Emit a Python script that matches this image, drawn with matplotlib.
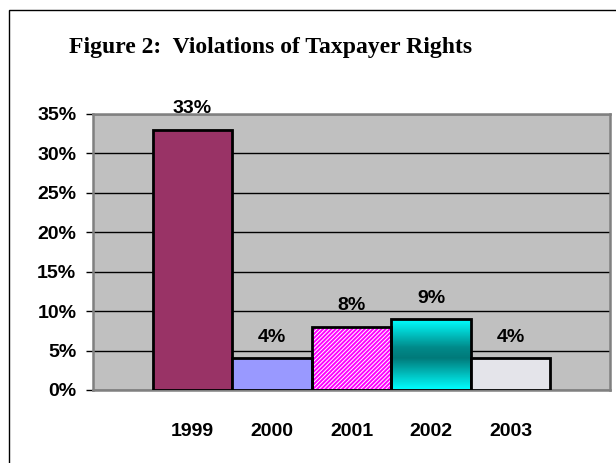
import numpy as np
import matplotlib
matplotlib.use("Agg")
import matplotlib.pyplot as plt
from matplotlib.colors import LinearSegmentedColormap
from matplotlib.patches import Rectangle

# ── data ──────────────────────────────────────────────────────────────────────
years  = ["1999", "2000", "2001", "2002", "2003"]
values = [33, 4, 8, 9, 4]          # percent
y_ticks = [0, 5, 10, 15, 20, 25, 30, 35]

# ── style ─────────────────────────────────────────────────────────────────────
bar_colors = ["#993366", "#9999FF", "#FF00FF", "none", "#E4E4EA"]
bold_sans = {"family": "Liberation Sans", "weight": "bold"}

fig = plt.figure(figsize=(6.16, 4.63), dpi=100, facecolor="white")

# outer chart frame (left and top edges visible)
fig.add_artist(Rectangle((9 / 616, -0.1), 1.2, 1.1 - 10 / 463,
                         transform=fig.transFigure, fill=False,
                         edgecolor="black", linewidth=1.0, clip_on=False))

fig.text(271 / 616, 1 - 47 / 463, "Figure 2:  Violations of Taxpayer Rights",
         ha="center", va="center", fontsize=17,
         family="Liberation Serif", weight="bold")

ax = fig.add_axes([93 / 616, 73 / 463, 517 / 616, 276 / 463])
ax.set_facecolor("#C0C0C0")
for sp in ax.spines.values():
    sp.set_color("#808080")
    sp.set_linewidth(1.8)

ax.set_yticks(y_ticks)
ax.set_yticklabels([f"{t}%" for t in y_ticks], fontdict=dict(bold_sans, size=14))
ax.yaxis.grid(True, color="black", linewidth=1.0)
ax.set_axisbelow(True)
ax.tick_params(axis="y", length=5, width=1, color="black", pad=7)

x = np.arange(len(years))
ax.set_xticks(x)
ax.set_xticklabels(years, fontdict=dict(bold_sans, size=14))
ax.tick_params(axis="x", length=0, pad=24)

bars = ax.bar(x, values, width=1.0, color=bar_colors,
              edgecolor="black", linewidth=2.0, zorder=3)

# 2001: magenta with fine white diagonal hatch
plt.rcParams["hatch.linewidth"] = 0.7
ax.bar(x[2], values[2], width=1.0, color="#FF00FF", edgecolor="white",
       hatch="////////", linewidth=0, zorder=2.5)
bars[2].set_facecolor("none")

# 2002: cyan -> teal -> cyan vertical gradient
grad = LinearSegmentedColormap.from_list(
    "cy", [(0, "#00FFFF"), (0.45, "#007A7A"), (0.6, "#008A8A"), (1, "#00FFFF")])
ramp = np.linspace(0, 1, 100).reshape(-1, 1)
ax.imshow(ramp, cmap=grad, aspect="auto", origin="lower",
          extent=[x[3] - 0.5, x[3] + 0.5, 0, values[3]], zorder=2.5)

ax.set_xlim(-1.25, 5.25)
ax.set_ylim(0, 35)

ax.bar_label(bars, labels=[f"{v}%" for v in values], padding=9,
             fontsize=14, fontfamily="Liberation Sans", fontweight="bold")

fig.savefig("out.png", dpi=100, facecolor="white")
